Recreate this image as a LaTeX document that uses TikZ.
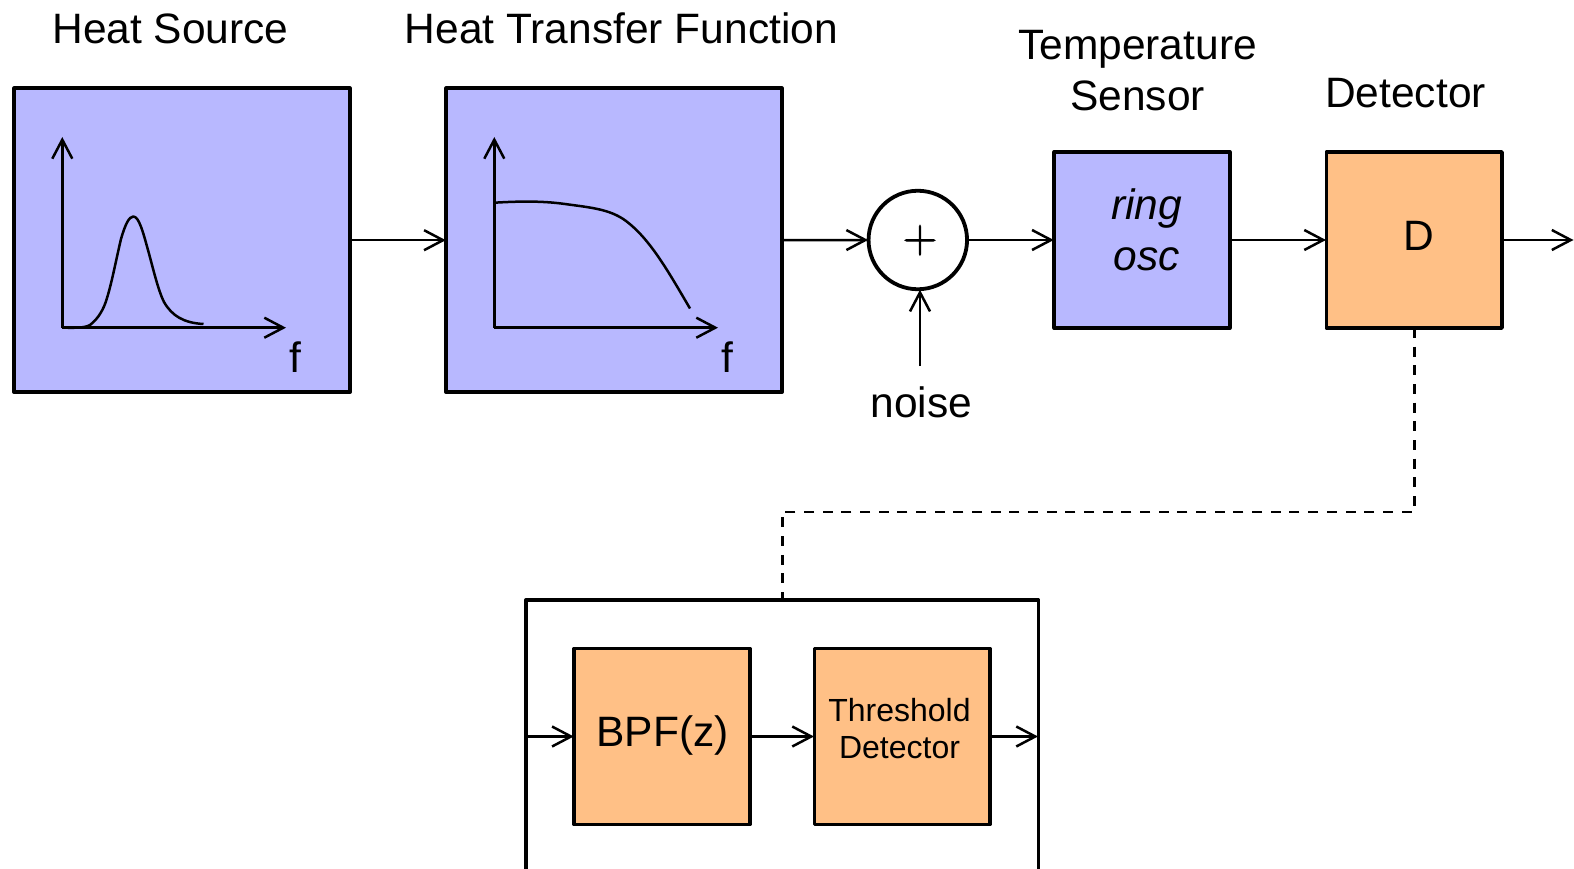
\documentclass[tikz,border=0pt]{standalone}
\usepackage{fontspec}
\setmainfont{Liberation Sans}
\newfontfamily\plusfont[FakeBold=1.6]{Latin Modern Roman}
\usetikzlibrary{arrows.meta}
\definecolor{bluefill}{RGB}{184,184,255}
\definecolor{orangefill}{RGB}{255,192,134}
\tikzset{
  box/.style={draw=black,line width=3.8pt,line join=round,rectangle,outer sep=0pt,inner sep=0pt,align=center,text=black},
  bluebox/.style={box,fill=bluefill},
  orangebox/.style={box,fill=orangefill},
  bigblue/.style={bluebox,minimum width=335.5pt,minimum height=304pt},
  smallblue/.style={bluebox,minimum width=175.5pt,minimum height=176pt},
  smallorange/.style={orangebox,minimum width=175.5pt,minimum height=176pt},
  conn/.style={line width=2.5pt,-{Straight Barb[length=19pt,width=20pt,line width=2.5pt]},shorten >=0.5pt},
  dashconn/.style={line width=2.8pt,dash pattern=on 10pt off 8.67pt},
  curve/.style={line width=2.5pt,line join=round},
  lab/.style={inner sep=0pt,outer sep=0pt,align=center,text=black,font=\fontsize{42.5}{50.4}\selectfont},
  lab32/.style={lab,font=\fontsize{32}{37}\selectfont},
}
\begin{document}
\begin{tikzpicture}[x=1pt,y=-1pt]
\useasboundingbox (0,0) rectangle (1574,869);
\clip (0,0) rectangle (1574,869);

% outer box, running past the bottom of the picture
\node[box,fill=white,minimum width=512.5pt,minimum height=400pt] (outer) at (782.2,800) {};

\node[bigblue] (src) at (182,240.2) {};
\node[bigblue] (htf) at (614,240.2) {};
\node[draw=black,line width=3.8pt,circle,fill=white,minimum size=98.5pt,inner sep=0pt,outer sep=0pt] (sum) at (917.8,240) {};
\node[inner sep=0pt,outer sep=0pt,text=black,font=\plusfont\fontsize{48}{52}\selectfont] (plus) at (920,240.3) {+};
\node[smallblue] (ring) at (1142,240) {};
\node[smallorange] (det) at (1414.2,240) {};
\node[smallorange] (bpf) at (662,736.5) {};
\node[smallorange] (thr) at (902.2,736.5) {};

% labels
\node[lab] (t1) at (170.5,29) {Heat Source};
\node[lab] (t2) at (621.3,28.2) {Heat Transfer Function};
\node[lab] (t3) at (1137.5,70.5) {Temperature\\Sensor};
\node[lab] (t4) at (1405.5,93) {Detector};
\node[lab,font=\fontsize{42.5}{50.4}\selectfont\itshape] (ringtxt) at (1146.5,230) {ring\\osc\hspace{2pt}};
\node[lab] (dtxt) at (1419,236) {D};
\node[lab,minimum height=72pt] (noise) at (921.3,402) {noise};
\node[lab] (bpftxt) at (662.5,735) {BPF(z)};
\node[lab32] (thrtxt) at (899.5,728.8) {Threshold\\Detector};
\node[lab] (f1) at (295,357) {f};
\node[lab] (f2) at (727,357) {f};

% connectors
\coordinate (outE) at (1574,240);
\draw[conn] (src.east) -- (htf.west);
\draw[conn] (htf.east) -- (sum.west);
\draw[conn] (sum.east) -- (ring.west);
\draw[conn] (ring.east) -- (det.west);
\draw[conn] (det.east) -- (outE);
\draw[conn] (noise.north -| plus.south) -- (plus.south |- sum.south);
\coordinate (d1) at (1414.2,512);
\coordinate (d2) at (782.2,512);
\draw[dashconn] (det.south) -- (d1) -- (d2) -- (outer.north);
\coordinate (inL) at (outer.west |- bpf.west);
\coordinate (inR) at (outer.east |- thr.east);
\draw[conn] (inL) -- (bpf.west);
\draw[conn] (bpf.east) -- (thr.west);
\draw[conn] (thr.east) -- (inR);

% plot 1
\coordinate (o1) at (62.3,327.7);
\coordinate (y1) at (62.3,136.5);
\coordinate (x1) at (286.5,327.7);
\draw[conn] (o1) -- (y1);
\draw[conn] (o1) -- (x1);
\draw[curve] (o1) .. controls (72,327.7) and (84,328.5) .. (90,325)
  .. controls (98,319) and (104,309) .. (107,298)
  .. controls (112,282) and (116,260) .. (121,239)
  .. controls (125,225) and (129,216.5) .. (133.3,216.5)
  .. controls (139,216.5) and (143,232) .. (148,250)
  .. controls (153,268) and (158,290) .. (164,302)
  .. controls (172,316) and (184,323) .. (203.5,324);

% plot 2
\coordinate (o2) at (494.3,327.7);
\coordinate (y2) at (494.3,136.5);
\coordinate (x2) at (718.5,327.7);
\draw[conn] (o2) -- (y2);
\draw[conn] (o2) -- (x2);
\draw[curve] (494.3,202.7) .. controls (515,201.5) and (540,200.5) .. (565,204)
  .. controls (590,207.5) and (610,209) .. (626,221)
  .. controls (650,239) and (668,271) .. (690,308.5);
\end{tikzpicture}
\end{document}
